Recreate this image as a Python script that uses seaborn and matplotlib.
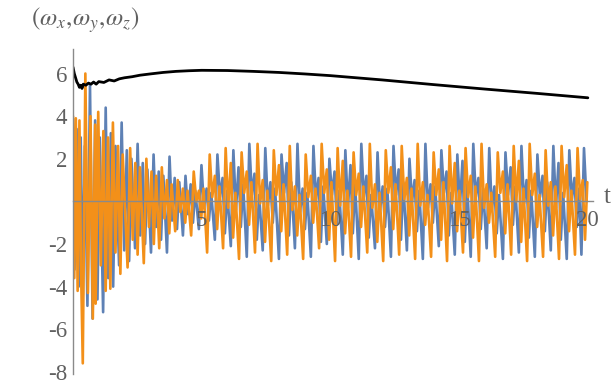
import numpy as np
import pandas as pd
import matplotlib
matplotlib.use("Agg")
import matplotlib.pyplot as plt
from matplotlib.ticker import MultipleLocator, FixedLocator
import seaborn as sns

# ---------------- data ----------------
# omega_x (blue): per oscillation cycle -> trough, peak, dip, bump, dip2, bump2
blue_head_t = [0.0, 0.06, 0.14, 0.22, 0.30, 0.38, 0.46]
blue_head_v = [2.0, -3.2, 3.4, -4.0, 3.0, -4.4, 2.6]
blue_peak_t = [0.66, 1.27, 1.89, 2.51, 3.13, 3.75, 4.37, 4.99, 5.61, 6.23, 6.85, 7.47,
               8.10, 8.72, 9.34, 9.96, 10.58, 11.20, 11.83, 12.45, 13.07, 13.69, 14.31,
               14.93, 15.55, 16.17, 16.80, 17.42, 18.04, 18.66, 19.28, 19.85]
blue_peak = [5.5, 4.4, 3.7, 2.7, 2.2, 2.1, 1.2, 1.7, 2.2, 2.4, 2.7, 2.5, 2.2, 2.7, 2.6, 2.0,
             2.4, 2.7, 2.3, 2.6, 2.0, 2.7, 2.4, 2.2, 2.7, 2.5, 2.3, 2.6, 2.2, 2.6, 2.4, 2.5]
blue_trough = [-4.9, -5.2, -3.0, -2.2, -2.4, -2.4, -1.6, -1.3, -1.8, -2.1, -2.6, -2.3, -2.7,
               -2.2, -2.6, -2.0, -2.5, -2.7, -2.2, -2.6, -2.3, -2.7, -2.1, -2.5, -2.6, -2.2,
               -2.7, -2.4, -2.6, -2.3, -2.7, -2.5]
blue_dip = [-5.5, -3.6, -2.3, -1.6, -1.2, -0.9, -0.6, -0.3, 0.2, -0.4, 0.3, -0.2, 0.4, -0.5,
            0.1, 0.3, -0.3, 0.2, -0.4, 0.3, 0.0, -0.3, 0.4, -0.2, 0.2, -0.4, 0.3, -0.1, 0.2,
            -0.3, 0.1, 0.0]
blue_bump = [3.8, 3.2, 2.4, 1.8, 1.4, 1.1, 0.8, 0.6, 1.1, 1.6, 1.3, 0.9, 1.8, 0.6, 1.1, 1.4,
             1.7, 1.2, 0.7, 1.5, 1.0, 0.8, 1.4, 1.9, 1.1, 0.7, 1.6, 1.0, 1.2, 1.8, 1.1, 0.9]
blue_dip2 = [-4.6, -4.0, -2.8, -2.0, -1.8, -1.3, -1.0, -0.9, -1.5, -1.2, -1.8, -1.0, -1.6,
             -1.3, -1.9, -1.1, -1.5, -1.7, -1.2, -1.8, -1.4, -1.0, -1.6, -1.9, -1.3, -1.5,
             -1.1, -1.7, -1.4, -1.8, -1.2, -1.6]
blue_bump2 = [3.0, 2.6, 2.0, 1.5, 1.2, 0.9, 0.5, 0.4, 0.5, 0.8, 0.3, 0.6, 0.9, 0.4, 0.7, 0.5,
              0.8, 0.3, 0.6, 0.9, 0.5, 0.7, 0.4, 0.8, 0.6, 0.3, 0.7, 0.5, 0.9, 0.4, 0.6, 0.8]

# omega_y (orange)
orange_head_t = [0.0, 0.05, 0.11, 0.18, 0.25, 0.31]
orange_head_v = [4.0, -3.6, 3.9, -4.2, 3.8, -3.0]
orange_peak_t = [0.48, 0.98, 1.55, 2.22, 2.85, 3.45, 4.07, 4.69, 5.31, 5.93, 6.55, 7.17,
                 7.80, 8.42, 9.04, 9.66, 10.28, 10.90, 11.53, 12.15, 12.77, 13.39, 14.01,
                 14.63, 15.25, 15.87, 16.50, 17.12, 17.74, 18.36, 18.98, 19.60]
orange_peak = [6.0, 4.2, 3.7, 2.5, 2.0, 1.6, 1.0, 1.4, 2.2, 2.5, 2.3, 2.7, 2.4, 2.6, 2.2, 2.7,
               2.5, 2.3, 2.7, 2.4, 2.6, 2.7, 2.3, 2.6, 2.5, 2.7, 2.3, 2.6, 2.7, 2.4, 2.6, 2.5]
orange_trough = [-7.6, -4.8, -4.1, -3.1, -2.9, -2.2, -1.4, -1.6, -2.4, -2.2, -2.7, -2.4, -2.8,
                 -2.5, -2.7, -2.2, -2.8, -2.6, -2.4, -2.8, -2.5, -2.7, -2.6, -2.8, -2.4, -2.8,
                 -2.6, -2.5, -2.8, -2.6, -2.7, -2.5]
orange_dip = [-4.3, -3.0, -2.4, -1.8, -1.2, -0.8, -0.5, 0.0, 0.2, -0.3, 0.4, -0.1, 0.3, -0.4,
              0.2, 0.4, -0.2, 0.3, -0.3, 0.4, 0.1, -0.2, 0.3, -0.1, 0.2, -0.3, 0.4, 0.0, 0.3,
              -0.2, 0.2, 0.1]
orange_bump = [4.0, 3.3, 2.6, 1.8, 1.4, 1.0, 0.6, 0.5, 1.2, 1.8, 1.4, 1.0, 1.7, 0.7, 1.2, 1.5,
               1.9, 1.3, 0.8, 1.6, 1.1, 0.9, 1.5, 1.8, 1.2, 0.8, 1.4, 1.9, 1.3, 0.9, 1.7, 1.0]
orange_dip2 = [-5.5, -4.2, -3.4, -2.5, -2.0, -1.5, -1.0, -0.8, -1.3, -1.7, -1.1, -1.9, -1.4,
               -1.6, -1.0, -1.8, -1.5, -1.2, -1.9, -1.3, -1.6, -1.1, -1.8, -1.4, -1.7, -1.0,
               -1.5, -1.9, -1.2, -1.6, -1.4, -1.8]
orange_bump2 = [3.6, 3.0, 2.2, 1.6, 1.2, 0.8, 0.5, 0.6, 0.7, 0.4, 0.9, 0.5, 0.8, 0.3, 0.6, 0.9,
                0.5, 0.7, 0.4, 0.8, 0.6, 0.3, 0.9, 0.5, 0.7, 0.4, 0.8, 0.6, 0.3, 0.7, 0.5, 0.9]

# omega_z (black)
black_t = [0, 0.05, 0.1, 0.15, 0.2, 0.25, 0.3, 0.35, 0.4, 0.5, 0.6, 0.7, 0.8, 0.9, 1.0, 1.2,
           1.4, 1.6, 1.8, 2.0, 2.3, 2.6, 3.0, 3.5, 4.0, 4.5, 5.0, 6.0, 7.0, 8.0, 9.0, 10.0,
           12.0, 14.0, 16.0, 18.0, 20.0]
black_v = [6.3, 6.0, 5.8, 5.6, 5.5, 5.35, 5.45, 5.3, 5.5, 5.45, 5.55, 5.5, 5.6, 5.5, 5.62,
           5.58, 5.7, 5.65, 5.75, 5.8, 5.85, 5.92, 5.98, 6.05, 6.1, 6.13, 6.15, 6.14, 6.1,
           6.05, 5.98, 5.9, 5.7, 5.48, 5.27, 5.07, 4.86]

x_ticks = [5, 10, 15, 20]
y_ticks = [-8, -6, -4, -2, 2, 4, 6]

OFFSETS = [-0.1, 0.0, 0.1, 0.2, 0.29, 0.38]


def build(head_t, head_v, pt, *cols):
    ts, vs = list(head_t), list(head_v)
    for t, vals in zip(pt, zip(*cols)):
        ts += [t + o for o in OFFSETS]
        vs += list(vals)
    df = pd.DataFrame({"t": ts, "v": vs})
    return df[df.t <= 20.0]


blue_df = build(blue_head_t, blue_head_v, blue_peak_t, blue_trough, blue_peak, blue_dip,
                blue_bump, blue_dip2, blue_bump2)
orange_df = build(orange_head_t, orange_head_v, orange_peak_t, orange_trough, orange_peak,
                  orange_dip, orange_bump, orange_dip2, orange_bump2)
black_df = pd.DataFrame({"t": black_t, "v": black_v})

# ---------------- plot ----------------
sns.set_style("white")
plt.rcParams["font.family"] = ["Liberation Serif", "DejaVu Serif"]
plt.rcParams["mathtext.fontset"] = "stix"
plt.rcParams["axes.unicode_minus"] = False

fig = plt.figure(figsize=(6.12, 3.85), dpi=100)
ax = fig.add_axes([73 / 612, 11 / 385, 520 / 612, 325 / 385])

blue = "#5E81B5"
orange = "#F39019"
sns.lineplot(data=blue_df, x="t", y="v", ax=ax, color=blue, lw=1.9, sort=False)
sns.lineplot(data=orange_df, x="t", y="v", ax=ax, color=orange, lw=1.9, sort=False)
sns.lineplot(data=black_df, x="t", y="v", ax=ax, color="black", lw=2.0, sort=False)

ax.set_xlim(0, 20.2)
ax.set_ylim(-8.1, 7.15)
ax.set_xlabel("")
ax.set_ylabel("")

axis_col = "#8a8a8a"
lab_col = "#606060"
ax.set_axisbelow(False)
for s in ["top", "right"]:
    ax.spines[s].set_visible(False)
ax.spines["bottom"].set_position(("data", 0))
ax.spines["left"].set_position(("data", 0))
for s in ["bottom", "left"]:
    ax.spines[s].set_color(axis_col)
    ax.spines[s].set_linewidth(1.0)
    ax.spines[s].set_zorder(6)
ax.xaxis.set_zorder(7)
ax.yaxis.set_zorder(7)

ax.xaxis.set_major_locator(FixedLocator(x_ticks))
ax.xaxis.set_minor_locator(MultipleLocator(1))
ax.yaxis.set_major_locator(FixedLocator(y_ticks))
ax.yaxis.set_minor_locator(MultipleLocator(0.5))
ax.tick_params(axis="both", which="both", direction="in", color=axis_col, labelcolor=lab_col,
               labelsize=16.5)
ax.tick_params(axis="both", which="major", length=6, width=1.0)
ax.tick_params(axis="both", which="minor", length=3.5, width=0.8)
ax.tick_params(axis="x", which="major", pad=6)
ax.tick_params(axis="y", which="major", pad=4)
ax.set_xticklabels([str(v) for v in x_ticks])
ax.set_yticklabels([str(v) for v in y_ticks])

fig.text(85 / 612, 1 - 20 / 385, r"$(\omega_x,\!\omega_y,\!\omega_z)$", ha="center",
         va="center", fontsize=18, color=lab_col)
fig.text(607 / 612, 1 - 197 / 385, "t", ha="center", va="center", fontsize=18, color=lab_col)

fig.savefig("out.png", dpi=100)
